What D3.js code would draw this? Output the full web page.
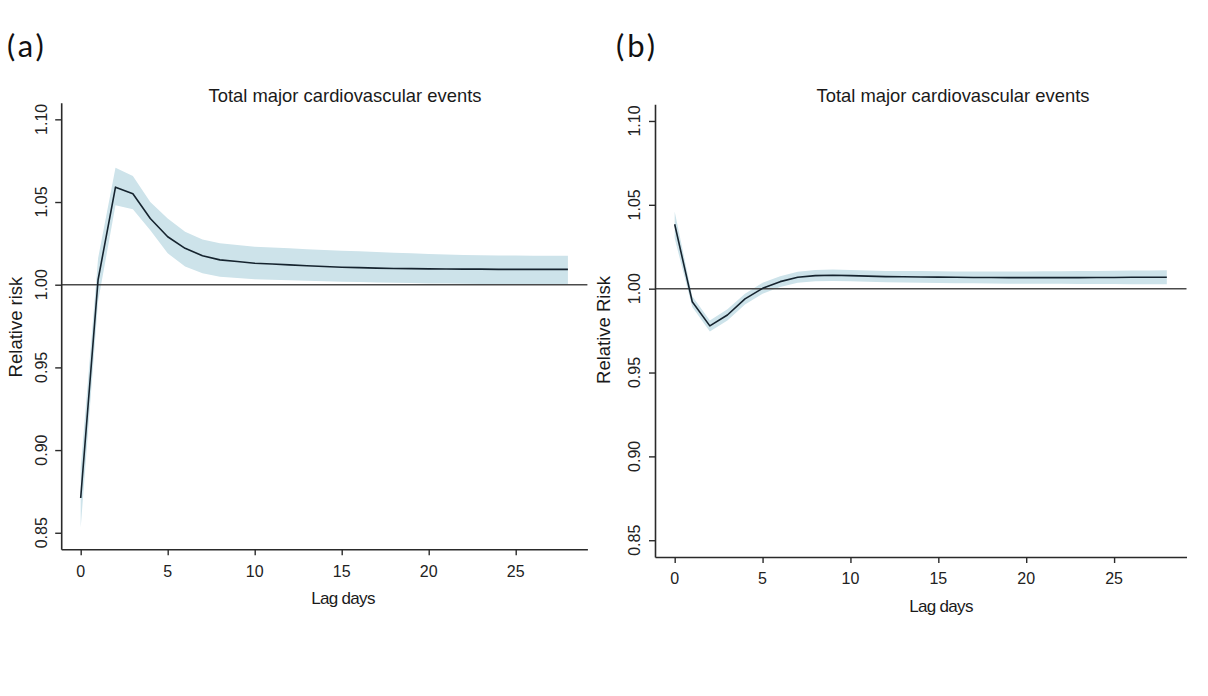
<!DOCTYPE html>
<html>
<head>
<meta charset="utf-8">
<script src="https://cdn.jsdelivr.net/npm/d3@7"></script>
<style>
  html, body { margin: 0; padding: 0; background: #fff; }
  svg { display: block; }
</style>
</head>
<body>
<svg id="chart" width="1208" height="696"></svg>
<script>
// ---------------- DATA ----------------
const lags = [0,1,2,3,4,5,6,7,8,9,10,11,12,13,14,15,16,17,18,19,20,21,22,23,24,25,26,27,28];

// Panel (a)
const rrA   = [0.871,1.003,1.059,1.055,1.040,1.029,1.022,1.0175,1.015,1.014,1.013,1.0125,1.012,1.0115,1.011,1.0106,1.0103,1.0100,1.0098,1.0097,1.0096,1.0095,1.0094,1.0094,1.0093,1.0093,1.0093,1.0093,1.0093];
const lowA  = [0.853,0.990,1.048,1.0456,1.033,1.019,1.011,1.0069,1.0048,1.0040,1.0033,1.0030,1.0027,1.0024,1.0021,1.0018,1.0016,1.0014,1.0012,1.0010,1.0008,1.0007,1.0006,1.0005,1.0005,1.0004,1.0004,1.0004,1.0004];
const highA = [0.889,1.016,1.0707,1.0657,1.050,1.040,1.032,1.0274,1.025,1.024,1.023,1.0225,1.022,1.0215,1.021,1.0206,1.0202,1.0198,1.0194,1.0190,1.0186,1.0183,1.0180,1.0178,1.0177,1.0176,1.0175,1.0175,1.0175];

// Panel (b)
const rrB   = [1.0384,0.9922,0.9778,0.9843,0.9939,1.0002,1.0042,1.0068,1.0078,1.0080,1.0078,1.0075,1.0072,1.0071,1.0070,1.0069,1.0068,1.0067,1.0067,1.0066,1.0066,1.0066,1.0066,1.0066,1.0067,1.0067,1.0068,1.0068,1.0068];
const lowB  = [1.030,0.989,0.9744,0.981,0.9905,0.997,1.001,1.0035,1.0044,1.0046,1.0044,1.0041,1.0038,1.0037,1.0035,1.0034,1.0033,1.0032,1.0031,1.0030,1.0030,1.0029,1.0029,1.0028,1.0028,1.0028,1.0027,1.0027,1.0027];
const highB = [1.046,0.9955,0.981,0.9878,0.997,1.0035,1.0074,1.0101,1.0112,1.0114,1.0112,1.0109,1.0106,1.0105,1.0105,1.0104,1.0103,1.0103,1.0103,1.0103,1.0103,1.0104,1.0104,1.0105,1.0106,1.0107,1.0108,1.0109,1.0110];

const xTicks = [0,5,10,15,20,25];
const yTicks = [0.85,0.90,0.95,1.00,1.05,1.10];
const yTickLabels = ["0.85","0.90","0.95","1.00","1.05","1.10"];
const xDomain = [-1.12, 29.12];
const yDomain = [0.84, 1.11];
const refValue = 1.0;

const titleText = "Total major cardiovascular events";
const xLabelText = "Lag days";

// ---------------- LAYOUT ----------------
const panels = [
  { tag: "(a)", ylab: "Relative risk", rr: rrA, lo: lowA, hi: highA,
    x0: 61.2, x1: 587.4, yTop: 102.8, yBot: 549.3,
    tagX: 7, tagY: 57, titleX: 345, titleY: 101.7,
    xlabX: 343, xlabY: 604, ylabX: 22, ylabY: 327,
    xtlY: 577, ytlX: 47.3 },
  { tag: "(b)", ylab: "Relative Risk", rr: rrB, lo: lowB, hi: highB,
    x0: 655, x1: 1186.5, yTop: 104.2, yBot: 557,
    tagX: 616, tagY: 57, titleX: 953, titleY: 102.3,
    xlabX: 941, xlabY: 612, ylabX: 610, ylabY: 330,
    xtlY: 584.3, ytlX: 639.5 }
];

const svg = d3.select("#chart");
const FONT = "'Liberation Sans', Arial, sans-serif";

panels.forEach(p => {
  const x = d3.scaleLinear().domain(xDomain).range([p.x0, p.x1]);
  const y = d3.scaleLinear().domain(yDomain).range([p.yBot, p.yTop]);
  const g = svg.append("g");

  const rows = lags.map((l, i) => ({ lag: l, rr: p.rr[i], lo: p.lo[i], hi: p.hi[i] }));

  // CI band
  g.append("path")
    .datum(rows)
    .attr("fill", "#cde3ea")
    .attr("stroke", "none")
    .attr("d", d3.area().x(d => x(d.lag)).y0(d => y(d.lo)).y1(d => y(d.hi)));

  // reference line
  g.append("line")
    .attr("x1", p.x0).attr("x2", p.x1)
    .attr("y1", y(refValue)).attr("y2", y(refValue))
    .attr("stroke", "#4a4a4a").attr("stroke-width", 1.5);

  // estimate line
  g.append("path")
    .datum(rows)
    .attr("fill", "none")
    .attr("stroke", "#15232e")
    .attr("stroke-width", 1.6)
    .attr("stroke-linejoin", "round")
    .attr("d", d3.line().x(d => x(d.lag)).y(d => y(d.rr)));

  // x axis
  const xAxis = g.append("g")
    .attr("transform", `translate(0,${p.yBot})`)
    .call(d3.axisBottom(x).tickValues(xTicks).tickSize(6).tickSizeOuter(0).tickFormat(d3.format("d")));
  xAxis.select(".domain").attr("stroke", "#2a2a2a").attr("stroke-width", 1.6);
  xAxis.selectAll(".tick line").attr("stroke", "#2a2a2a").attr("stroke-width", 1.4);
  xAxis.selectAll(".tick text").remove();
  xTicks.forEach(t => {
    g.append("text")
      .attr("x", x(t)).attr("y", p.xtlY)
      .attr("text-anchor", "middle")
      .attr("font-family", FONT).attr("font-size", 16)
      .attr("fill", "#222")
      .text(d3.format("d")(t));
  });

  // y axis
  const yAxis = g.append("g")
    .attr("transform", `translate(${p.x0},0)`)
    .call(d3.axisLeft(y).tickValues(yTicks).tickSize(6).tickSizeOuter(0));
  yAxis.select(".domain").attr("stroke", "#2a2a2a").attr("stroke-width", 1.6);
  yAxis.selectAll(".tick line").attr("stroke", "#2a2a2a").attr("stroke-width", 1.4);
  yAxis.selectAll(".tick text").remove();
  yTicks.forEach((t, i) => {
    g.append("text")
      .attr("transform", `translate(${p.ytlX},${y(t)}) rotate(-90)`)
      .attr("text-anchor", "middle")
      .attr("font-family", FONT).attr("font-size", 16)
      .attr("fill", "#222")
      .text(yTickLabels[i]);
  });

  // title
  g.append("text")
    .attr("x", p.titleX).attr("y", p.titleY)
    .attr("text-anchor", "middle")
    .attr("font-family", FONT).attr("font-size", 18.4)
    .attr("fill", "#1a1a1a")
    .text(titleText);

  // x label
  g.append("text")
    .attr("x", p.xlabX).attr("y", p.xlabY)
    .attr("text-anchor", "middle")
    .attr("font-family", FONT).attr("font-size", 17)
    .attr("letter-spacing", -0.7)
    .attr("fill", "#1a1a1a")
    .text(xLabelText);

  // y label
  g.append("text")
    .attr("transform", `translate(${p.ylabX},${p.ylabY}) rotate(-90)`)
    .attr("text-anchor", "middle")
    .attr("font-family", FONT).attr("font-size", 18.5)
    .attr("fill", "#1a1a1a")
    .text(p.ylab);

  // panel tag
  svg.append("text")
    .attr("x", p.tagX).attr("y", p.tagY)
    .attr("font-family", "Lato, 'Open Sans', sans-serif").attr("font-size", 31)
    .attr("letter-spacing", 3)
    .attr("fill", "#111")
    .text(p.tag);
});
</script>
</body>
</html>
